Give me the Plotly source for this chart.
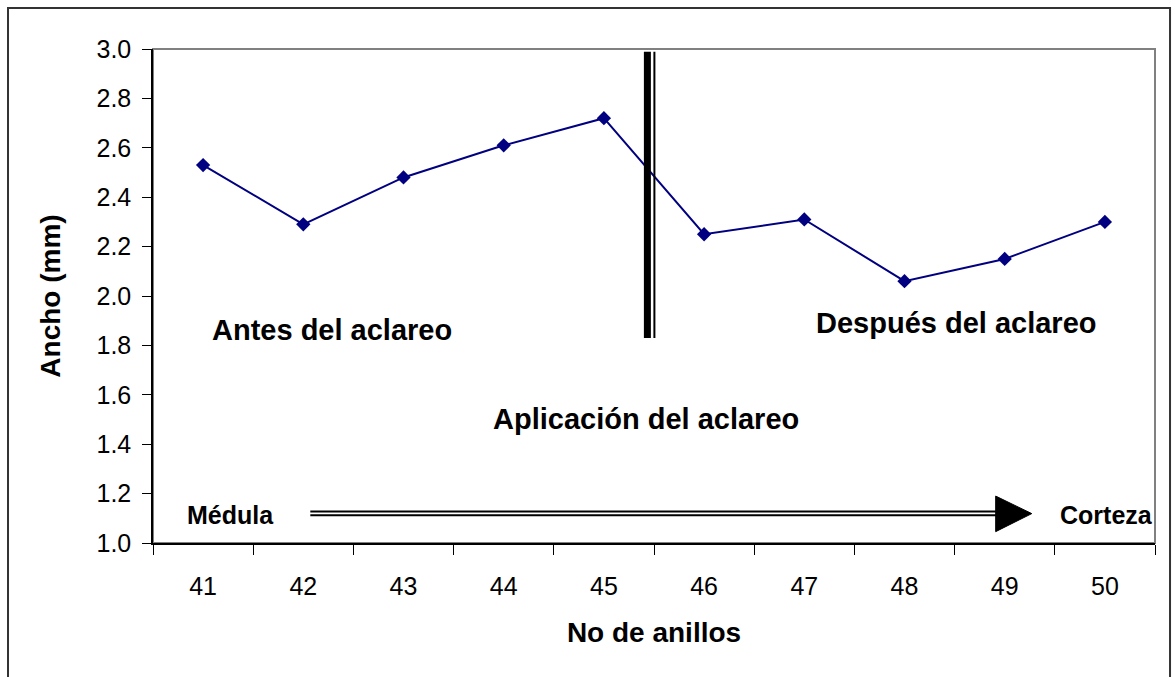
import plotly.graph_objects as go

# Ring numbers (pith to bark) and mean ring width in mm
anillos = [41, 42, 43, 44, 45, 46, 47, 48, 49, 50]
ancho_mm = [2.53, 2.29, 2.48, 2.61, 2.72, 2.25, 2.31, 2.06, 2.15, 2.30]

y_ticks = [1.0, 1.2, 1.4, 1.6, 1.8, 2.0, 2.2, 2.4, 2.6, 2.8, 3.0]

FONT = "Liberation Sans, Arial, sans-serif"
NAVY = "#000080"

# Thinning marker position (between rings 45 and 46) and pith->bark arrow
thin_x_thick, thin_x_thin = 45.434, 45.504
thin_y0, thin_y1 = 1.83, 2.989
arrow_y_top, arrow_y_bot = 1.1275, 1.1125
arrow_x0, arrow_x1, arrow_tip = 42.07, 48.93, 49.27
head_y0, head_y1, head_ymid = 1.046, 1.190, 1.119

fig = go.Figure()

fig.add_trace(go.Scatter(
    x=anillos, y=ancho_mm,
    mode="lines+markers",
    line=dict(color=NAVY, width=2),
    marker=dict(symbol="diamond", size=11, color=NAVY),
    showlegend=False, hoverinfo="x+y",
))

shapes = [
    # outer chart frame
    dict(type="rect", xref="paper", yref="paper",
         x0=-0.1447, x1=1.0150, y0=-0.30, y1=1.083,
         line=dict(color="#333333", width=2), layer="below"),
    # plot area frame (grey top/right)
    dict(type="rect", xref="paper", yref="paper",
         x0=0, x1=1, y0=0, y1=1,
         line=dict(color="#808080", width=2), layer="below"),
    # thick + thin vertical line marking the thinning
    dict(type="line", xref="x", yref="y",
         x0=thin_x_thick, x1=thin_x_thick, y0=thin_y0, y1=thin_y1,
         line=dict(color="black", width=7)),
    dict(type="line", xref="x", yref="y",
         x0=thin_x_thin, x1=thin_x_thin, y0=thin_y0, y1=thin_y1,
         line=dict(color="black", width=2)),
    # double-line arrow shaft
    dict(type="line", xref="x", yref="y",
         x0=arrow_x0, x1=arrow_x1, y0=arrow_y_top, y1=arrow_y_top,
         line=dict(color="black", width=2)),
    dict(type="line", xref="x", yref="y",
         x0=arrow_x0, x1=arrow_x1, y0=arrow_y_bot, y1=arrow_y_bot,
         line=dict(color="black", width=2)),
    # arrow head
    dict(type="path", xref="x", yref="y",
         path=f"M {arrow_x1 - 0.02},{head_y0} L {arrow_tip},{head_ymid} L {arrow_x1 - 0.02},{head_y1} Z",
         fillcolor="black", line=dict(color="black", width=1)),
]

labels = [
    ("Antes del aclareo", 42.284, 1.862, 29),
    ("Después del aclareo", 48.517, 1.891, 29),
    ("Aplicación del aclareo", 45.422, 1.502, 29),
    ("Médula", 41.277, 1.113, 25),
    ("Corteza", 50.012, 1.113, 25),
]
annotations = [
    dict(text=f"<b>{t}</b>", x=x, y=y, xref="x", yref="y",
         showarrow=False, xanchor="center", yanchor="middle",
         font=dict(family=FONT, size=s, color="black"))
    for t, x, y, s in labels
]

fig.update_layout(
    width=1175, height=677,
    margin=dict(l=153, r=20, t=49, b=134, autoexpand=False),
    paper_bgcolor="white", plot_bgcolor="white",
    font=dict(family=FONT, color="black"),
    shapes=shapes, annotations=annotations,
    showlegend=False,
)

fig.update_xaxes(
    range=[40.5, 50.5],
    tickvals=anillos, ticktext=[str(a) for a in anillos],
    ticks="", showgrid=False, zeroline=False,
    showline=True, linecolor="black", linewidth=1.5,
    tickfont=dict(family=FONT, size=25, color="black"),
    ticklabelstandoff=20,
    minor=dict(tick0=40.5, dtick=1, ticks="outside", ticklen=10,
               tickcolor="black", tickwidth=1, showgrid=False),
    title=dict(text="<b>No de anillos</b>",
               font=dict(family=FONT, size=28, color="black"), standoff=24),
    automargin=False,
)

fig.update_yaxes(
    range=[1.0, 3.0],
    tickvals=y_ticks, ticktext=[f"{v:.1f}" for v in y_ticks],
    ticks="outside", ticklen=9, tickcolor="black", tickwidth=1,
    showgrid=False, zeroline=False,
    showline=True, linecolor="black", linewidth=1.5,
    tickfont=dict(family=FONT, size=25, color="black"),
    ticklabelstandoff=6,
    title=dict(text="<b>Ancho (mm)</b>",
               font=dict(family=FONT, size=28, color="black"), standoff=28),
    automargin=False,
)

fig.write_html("out.html")
